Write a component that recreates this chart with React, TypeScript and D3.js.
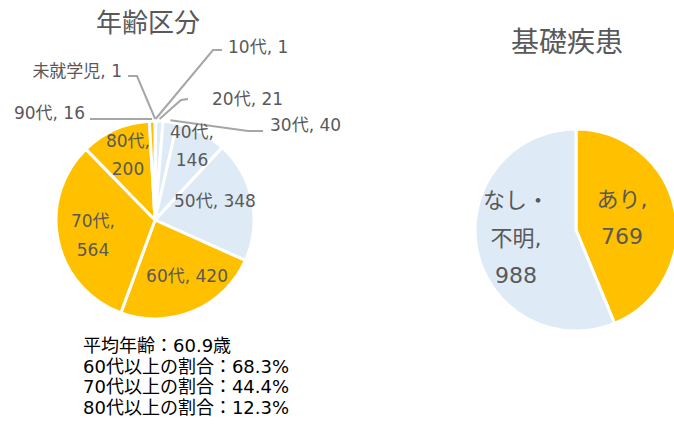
import { useEffect, useRef } from 'react';
import * as d3 from 'd3';

// age group breakdown (left pie)
const AGE_GROUPS = ['未就学児', '10代', '20代', '30代', '40代', '50代', '60代', '70代', '80代', '90代'];
const AGE_COUNTS = [1, 1, 21, 40, 146, 348, 420, 564, 200, 16];

// underlying disease (right pie)
const DISEASE_GROUPS = ['あり', 'なし・不明'];
const DISEASE_COUNTS = [769, 988];

const SUMMARY_LINES = [
  '平均年齢：60.9歳',
  '60代以上の割合：68.3%',
  '70代以上の割合：44.4%',
  '80代以上の割合：12.3%',
];

const ORANGE = '#ffc000';
const LIGHT_BLUE = '#deebf7';
const LABEL_GREY = '#595959';
const LEADER_GREY = '#a6a6a6';
const FONT = "'DejaVu Sans', 'Noto Sans CJK JP', sans-serif";

const AGE_COLOR: Record<string, string> = {
  未就学児: LIGHT_BLUE, '10代': LIGHT_BLUE, '20代': LIGHT_BLUE, '30代': LIGHT_BLUE,
  '40代': LIGHT_BLUE, '50代': LIGHT_BLUE,
  '60代': ORANGE, '70代': ORANGE, '80代': ORANGE, '90代': ORANGE,
};
const DISEASE_COLOR: Record<string, string> = { あり: ORANGE, 'なし・不明': LIGHT_BLUE };

type Label = {
  x: number; y: number; anchor: string;
  wrap?: boolean; nameBreak?: number; lh?: number;
  leader?: [number, number][];
};

// label placement relative to pie centre (Excel-style manual layout)
const AGE_LABELS: Record<string, Label> = {
  未就学児: { x: -33, y: -143, anchor: 'end', leader: [[-27, -144], [-18, -144]] },
  '10代': { x: 73, y: -167, anchor: 'start', leader: [[67, -170], [58, -170]] },
  '20代': { x: 57, y: -115, anchor: 'start', leader: [[33, -121], [26, -120]] },
  '30代': { x: 115, y: -89, anchor: 'start', leader: [[108, -89], [93, -89]] },
  '40代': { x: 37, y: -82, anchor: 'middle', wrap: true, lh: 28 },
  '50代': { x: 60, y: -13, anchor: 'middle' },
  '60代': { x: 32, y: 62, anchor: 'middle' },
  '70代': { x: -62, y: 7, anchor: 'middle', wrap: true, lh: 29 },
  '80代': { x: -27, y: -73, anchor: 'middle', wrap: true, lh: 28 },
  '90代': { x: -70, y: -101, anchor: 'end', leader: [[-65, -101]] },
};
const DISEASE_LABELS: Record<string, Label> = {
  あり: { x: 46, y: -23, anchor: 'middle', wrap: true, lh: 37 },
  'なし・不明': { x: -60, y: -22, anchor: 'middle', wrap: true, nameBreak: 3, lh: 37.5 },
};

function labelLines(name: string, value: number, l: Label): string[] {
  if (!l.wrap) return [`${name}, ${value}`];
  if (l.nameBreak) return [name.slice(0, l.nameBreak), `${name.slice(l.nameBreak)},`, `${value}`];
  return [`${name},`, `${value}`];
}

function drawPie(
  svg: d3.Selection<SVGSVGElement, unknown, null, undefined>,
  opts: {
    names: string[]; values: number[]; colors: Record<string, string>;
    labels: Record<string, Label>; cx: number; cy: number; r: number;
    fontSize: number; title: string; titleSize: number; tx: number; ty: number;
  },
) {
  const { names, values, colors, labels, cx, cy, r, fontSize } = opts;
  const data = names.map((n, i) => ({ name: n, value: values[i] }));
  const pie = d3.pie<{ name: string; value: number }>().sort(null).value((d) => d.value);
  const arcs = pie(data);
  const arc = d3.arc<d3.PieArcDatum<{ name: string; value: number }>>().innerRadius(0).outerRadius(r);

  svg.append('text')
    .attr('x', opts.tx)
    .attr('y', opts.ty)
    .attr('text-anchor', 'middle')
    .attr('font-family', FONT)
    .attr('font-size', opts.titleSize)
    .attr('fill', LABEL_GREY)
    .text(opts.title);

  const g = svg.append('g').attr('transform', `translate(${cx},${cy})`);

  g.selectAll('path.slice')
    .data(arcs)
    .join('path')
    .attr('class', 'slice')
    .attr('d', arc)
    .attr('fill', (d) => colors[d.data.name])
    .attr('stroke', '#fff')
    .attr('stroke-width', 3)
    .attr('stroke-linejoin', 'round');

  arcs.forEach((a) => {
    const l = labels[a.data.name];
    if (l.leader) {
      const mid = (a.startAngle + a.endAngle) / 2;
      const edge: [number, number] = [Math.sin(mid) * (r + 2), -Math.cos(mid) * (r + 2)];
      g.append('path')
        .attr('d', d3.line()([...l.leader, edge]))
        .attr('fill', 'none')
        .attr('stroke', LEADER_GREY)
        .attr('stroke-width', 2);
    }
    const lines = labelLines(a.data.name, a.data.value, l);
    const t = g.append('text')
      .attr('text-anchor', l.anchor)
      .attr('font-family', FONT)
      .attr('font-size', fontSize)
      .attr('fill', LABEL_GREY);
    lines.forEach((s, i) => {
      t.append('tspan').attr('x', l.x).attr('y', l.y + i * (l.lh ?? 0)).text(s);
    });
  });
}

export default function App() {
  const svgRef = useRef<SVGSVGElement>(null);

  useEffect(() => {
    if (!svgRef.current) return;
    const svg = d3.select(svgRef.current);
    svg.selectAll('*').remove();

    drawPie(svg, {
      names: AGE_GROUPS, values: AGE_COUNTS, colors: AGE_COLOR, labels: AGE_LABELS,
      cx: 155, cy: 220, r: 99, fontSize: 17, title: '年齢区分', titleSize: 26, tx: 148, ty: 32,
    });
    drawPie(svg, {
      names: DISEASE_GROUPS, values: DISEASE_COUNTS, colors: DISEASE_COLOR, labels: DISEASE_LABELS,
      cx: 576, cy: 230, r: 101, fontSize: 22, title: '基礎疾患', titleSize: 28, tx: 567, ty: 52,
    });

    const summary = svg.append('text')
      .attr('font-family', FONT)
      .attr('font-size', 18)
      .attr('fill', '#000');
    SUMMARY_LINES.forEach((s, i) => {
      summary.append('tspan').attr('x', 83).attr('y', 352 + i * 20.5).text(s);
    });
  }, []);

  return (
    <svg
      ref={svgRef}
      width={674}
      height={424}
      style={{ position: 'absolute', left: 0, top: 0, background: '#fff' }}
    />
  );
}
